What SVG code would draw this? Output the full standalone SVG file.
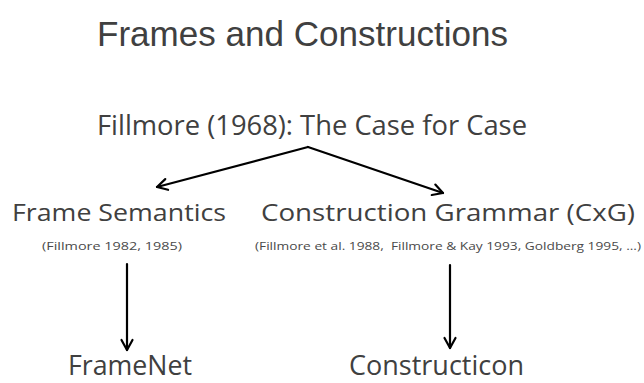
<svg xmlns="http://www.w3.org/2000/svg" width="644" height="383" viewBox="0 0 644 383">
<defs>
<marker id="arr" markerUnits="userSpaceOnUse" markerWidth="14" markerHeight="14" viewBox="0 0 14 14" refX="12" refY="7" orient="auto">
<path d="M2,1.5 L12,7 L2,12.5" fill="none" stroke="#000" stroke-width="2.2" stroke-linecap="round" stroke-linejoin="round"/>
</marker>
<style>
.title{font-family:"Liberation Sans",Arial,sans-serif;font-size:35px;fill:#404040}
.big{font-family:"Open Sans","Noto Sans",sans-serif;font-size:28px;fill:#404040}
.mid{font-family:"Open Sans","Noto Sans",sans-serif;font-size:24px;fill:#404040}
.cite{font-family:"Open Sans","Noto Sans",sans-serif;font-size:11px;fill:#4a4a4a}
.conn{stroke:#000;stroke-width:2.2;fill:none;stroke-linecap:round;stroke-linejoin:round}
</style>
</defs>
<rect width="644" height="383" fill="#fff"/>
<text class="title" x="97" y="46" textLength="411" lengthAdjust="spacingAndGlyphs">Frames and Constructions</text>
<g id="root">
<text class="big" x="97" y="135" textLength="430" lengthAdjust="spacingAndGlyphs">Fillmore (1968): The Case for Case</text>
</g>
<g id="frame-semantics">
<text class="mid" x="12" y="221" textLength="214" lengthAdjust="spacingAndGlyphs">Frame Semantics</text>
<text class="cite" x="42" y="250" textLength="140" lengthAdjust="spacingAndGlyphs">(Fillmore 1982, 1985)</text>
</g>
<g id="cxg">
<text class="mid" x="261" y="221" textLength="374" lengthAdjust="spacingAndGlyphs">Construction Grammar (CxG)</text>
<text class="cite" x="255" y="250" textLength="386" lengthAdjust="spacingAndGlyphs" xml:space="preserve">(Fillmore et al. 1988,  Fillmore &amp; Kay 1993, Goldberg 1995, ...)</text>
</g>
<g id="framenet">
<text class="big" x="68" y="375" textLength="124" lengthAdjust="spacingAndGlyphs">FrameNet</text>
</g>
<g id="constructicon">
<text class="big" x="349" y="375" textLength="175" lengthAdjust="spacingAndGlyphs">Constructicon</text>
</g>
<g id="connectors">
<path class="conn" d="M308,147 L157,187" marker-end="url(#arr)"/>
<path class="conn" d="M308,147 L443,193" marker-end="url(#arr)"/>
<path class="conn" d="M127,264 L127,350" marker-end="url(#arr)"/>
<path class="conn" d="M450,265 L450,348" marker-end="url(#arr)"/>
</g>
</svg>
